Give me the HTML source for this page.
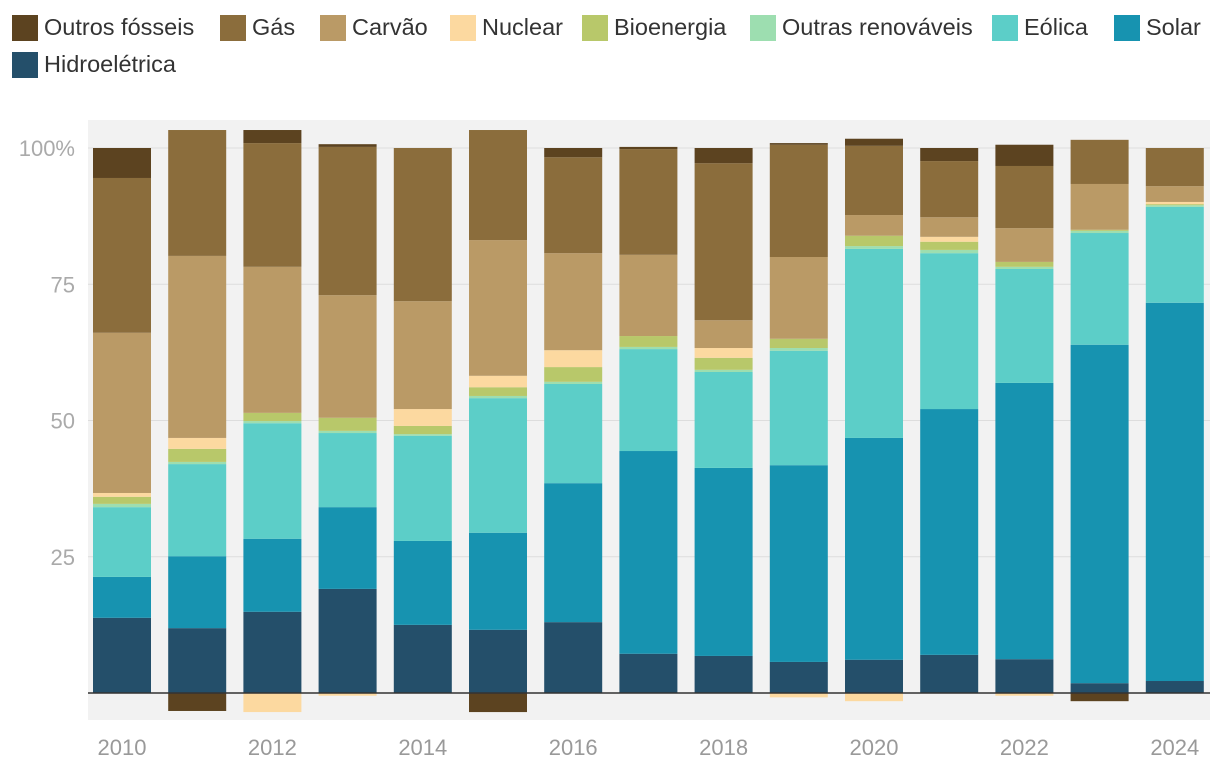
<!DOCTYPE html>
<html><head><meta charset="utf-8"><style>
body{margin:0;background:#fff;font-family:"Liberation Sans",sans-serif;}
.legend{position:absolute;left:12px;top:12px;width:1200px;}
.li{position:absolute;display:flex;align-items:center;font-size:23.5px;color:#333;white-space:nowrap}
.sw{width:26px;height:26px;margin-right:6px}
</style></head><body>
<div id="legend"></div>
<svg id="chart" width="1220" height="780" style="position:absolute;left:0;top:0;z-index:-1"></svg>
<script>
const years=[2010,2011,2012,2013,2014,2015,2016,2017,2018,2019,2020,2021,2022,2023,2024];
const seriesNames=["Hidroelétrica","Solar","Eólica","Outras renováveis","Bioenergia","Nuclear","Carvão","Gás","Outros fósseis"];
const colors=["#244f6a","#1793b0","#5ccec8","#9ddeb0","#b8c86a","#fcd9a0","#ba9a66","#8b6d3c","#5c4320"];
const hidro=[13.8,11.9,14.9,19.1,12.5,11.6,13.0,7.2,6.8,5.7,6.1,7.0,6.2,1.8,2.2];
const solar=[7.5,13.2,13.4,15.0,15.4,17.8,25.5,37.2,34.5,36.1,40.7,45.1,50.7,62.1,69.4];
const eolica=[12.8,16.9,21.2,13.6,19.3,24.7,18.2,18.7,17.6,21.0,34.7,28.6,20.9,20.5,17.6];
const outrasRenov=[0.6,0.4,0.4,0.4,0.3,0.4,0.4,0.4,0.4,0.5,0.5,0.6,0.4,0.4,0.3];
const bio=[1.3,2.4,1.5,2.4,1.5,1.6,2.7,2.0,2.2,1.7,1.9,1.5,0.9,0.2,0.2];
const nuclear=[0.7,2.0,-3.5,-0.5,3.1,2.1,3.1,0,1.8,-0.8,-1.5,0.9,-0.5,0,0.4];
const carvao=[29.4,33.4,26.8,22.5,19.8,24.9,17.8,14.9,5.1,15.0,3.8,3.6,6.2,8.4,2.9];
const gas=[28.4,23.1,22.7,27.2,28.1,20.2,17.6,19.4,28.8,20.6,12.7,10.3,11.4,8.1,7.0];
const outrosFos=[5.5,-3.3,2.4,0.5,0,-3.5,1.7,0.4,2.8,0.3,1.3,2.4,3.9,-1.5,0];
const series=[hidro,solar,eolica,outrasRenov,bio,nuclear,carvao,gas,outrosFos];
const yTicks=[0,25,50,75,100];
const yTickLabels=["","25","50","75","100%"];
const ns="http://www.w3.org/2000/svg";
const svg=document.getElementById('chart');
const y=v=>693-v*5.45;
const xc=i=>122+i*75.2;
const bw=58;
function el(t,a){const e=document.createElementNS(ns,t);for(const k in a)e.setAttribute(k,a[k]);svg.appendChild(e);return e;}
const bg=el('rect',{x:88,y:120,width:1122,height:600,fill:'#f2f2f2'});


yTicks.forEach((t,i)=>{
 if(t>0){const g=el('line',{x1:88,x2:1210,y1:y(t),y2:y(t),stroke:'#dddddd','stroke-width':1});
 
 }
 const tx=el('text',{x:75,y:y(t)+8,'text-anchor':'end','font-size':22,fill:'#aaaaaa'});
 tx.textContent=yTickLabels[i];
 
 
});
years.forEach((yr,i)=>{
 let pos=0,neg=0;
 series.forEach((s,j)=>{
  const v=s[i]; if(!v)return;
  let top,bot;
  if(v>0){bot=pos;top=pos+v;pos=top;}else{top=neg;bot=neg+v;neg=bot;}
  const r=el('rect',{x:xc(i)-bw/2,y:y(top),width:bw,height:y(bot)-y(top),fill:colors[j]});
  
  
 });
 if(i%2==0){const tx=el('text',{x:xc(i),y:755,'text-anchor':'middle','font-size':22,fill:'#999999'});
 tx.textContent=yr;
 
 }
});
const base=el('line',{x1:88,x2:1210,y1:693,y2:693,stroke:'#333',"stroke-width":1.5});


const legOrder=[8,7,6,5,4,3,2,1,0];
const legPos=[[12,14],[220,14],[320,14],[450,14],[582,14],[750,14],[992,14],[1114,14],[12,51]];
const L=document.getElementById('legend');
legOrder.forEach((j,k)=>{
 const d=document.createElement('div');d.className='li';
 d.style.left=legPos[k][0]+'px';d.style.top=legPos[k][1]+'px';
 d.innerHTML='<span class="sw" style="background:'+colors[j]+'"></span>'+seriesNames[j];
 
 
 L.appendChild(d);
});
</script>
</body></html>
